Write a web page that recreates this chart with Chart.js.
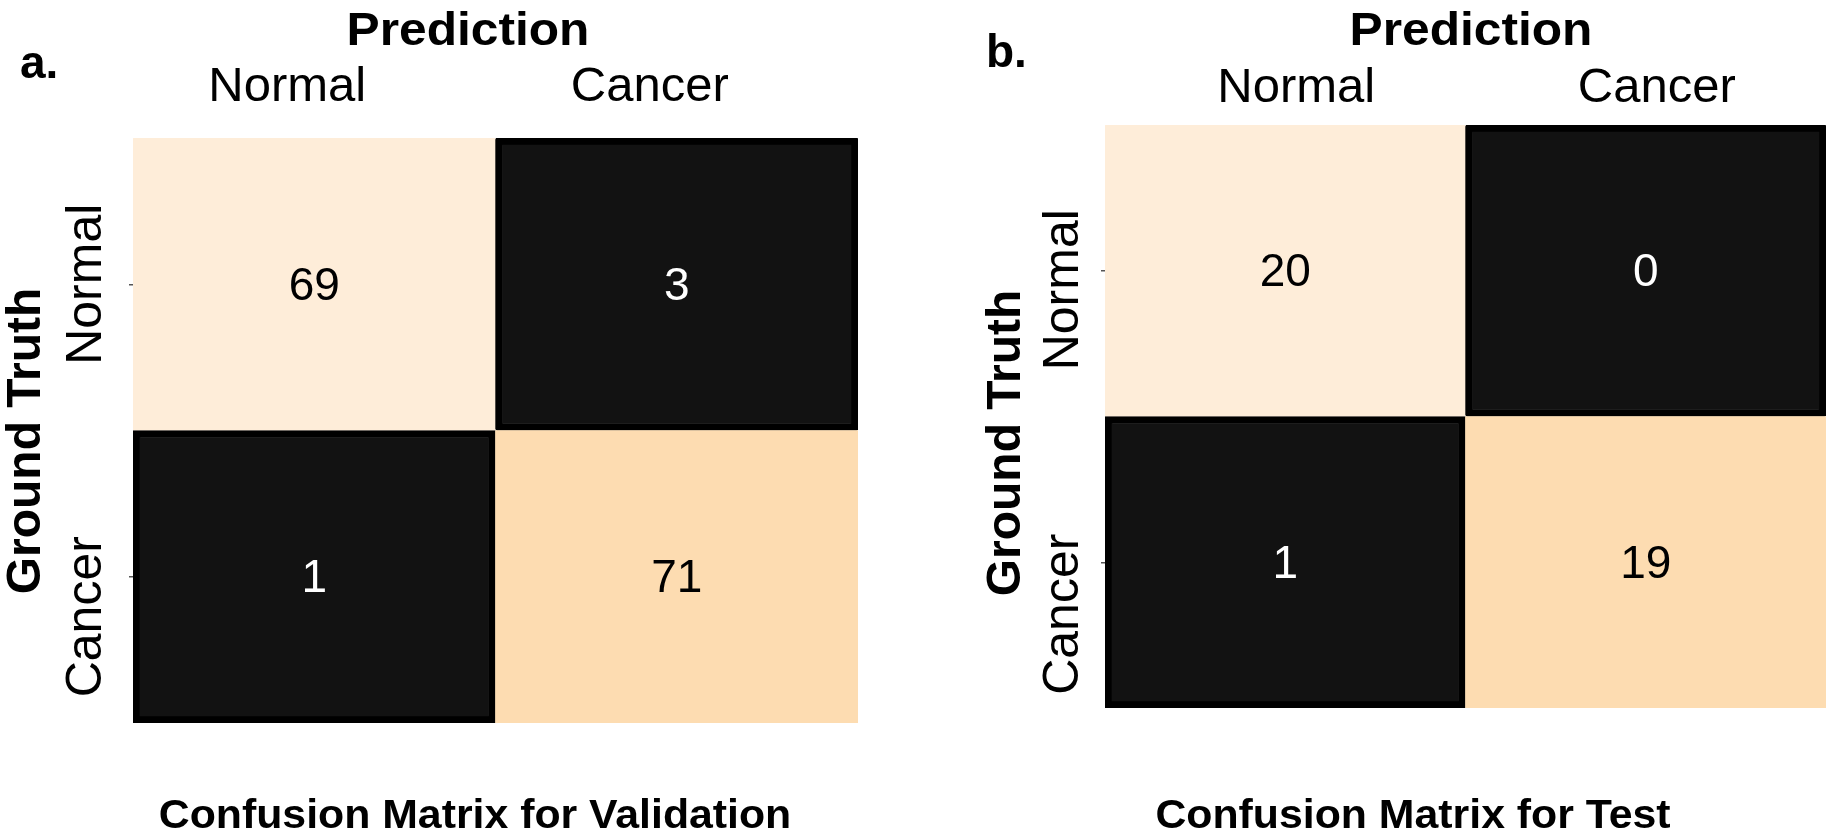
<!DOCTYPE html>
<html>
<head>
<meta charset="utf-8">
<script src="https://cdn.jsdelivr.net/npm/chart.js@4.4.1/dist/chart.umd.min.js"></script>
<style>
  html, body { margin: 0; padding: 0; background: #ffffff; overflow: hidden; width: 1834px; height: 839px; }
  canvas { position: absolute; top: 0; }
  #chartA { left: 0; }
  #chartB { left: 917px; }
</style>
</head>
<body>
<canvas id="chartA" width="917" height="839" style="width:917px;height:839px"></canvas>
<canvas id="chartB" width="917" height="839" style="width:917px;height:839px"></canvas>
<script>
// ---------- data ----------
const predLabels = ['Normal', 'Cancer'];      // columns (Prediction)
const truthLabels = ['Normal', 'Cancer'];     // rows (Ground Truth), top to bottom
const validationCounts = [[69, 3], [1, 71]];
const testCounts = [[20, 0], [1, 19]];
const xTitleText = 'Prediction';
const yTitleText = 'Ground Truth';
const captionA = 'Confusion Matrix for Validation';
const captionB = 'Confusion Matrix for Test';
const letterA = 'a.';
const letterB = 'b.';

// ---------- style ----------
const FONT = "'Liberation Sans', Arial, Helvetica, sans-serif";
const cellColors = [['#FEEDD9', '#121212'], ['#121212', '#FDDCB1']];
const textColors = [['#000000', '#ffffff'], ['#ffffff', '#000000']];
const darkCells = [[false, true], [true, false]];

const cellText = {
  id: 'cellText',
  afterDatasetsDraw(chart) {
    const ctx = chart.ctx;
    chart.data.datasets.forEach((ds, di) => {
      const meta = chart.getDatasetMeta(di);
      meta.data.forEach((el, i) => {
        const p = el.getProps(['x', 'y', 'base'], true);
        ctx.save();
        ctx.font = '46px ' + FONT;
        ctx.fillStyle = textColors[ds.row][i];
        ctx.textAlign = 'center';
        ctx.textBaseline = 'middle';
        ctx.fillText(String(ds.counts[i]), p.x, (p.y + p.base) / 2 + 3);
        ctx.restore();
      });
    });
  }
};

function drawText(ctx, t) {
  ctx.save();
  ctx.translate(t.x, t.y);
  if (t.rot) ctx.rotate(t.rot);
  if (t.sx) ctx.scale(t.sx, 1);
  ctx.font = t.font;
  ctx.fillStyle = '#000000';
  ctx.textAlign = t.align || 'center';
  ctx.textBaseline = t.baseline || 'alphabetic';
  ctx.fillText(t.text, 0, 0);
  ctx.restore();
}

function panelText(geo) {
  return {
    id: 'panelText',
    afterDraw(chart) {
      const ctx = chart.ctx;
      const ys = chart.scales.y;
      // row labels (Ground Truth categories), positioned from the y scale
      truthLabels.forEach((lab, r) => {
        const py = ys.getPixelForValue(truthLabels.length - r - 0.5) + geo.rowShift[r];
        drawText(ctx, { text: lab, x: geo.rowX, y: py, rot: -Math.PI / 2, font: '50px ' + FONT, align: 'center', baseline: 'middle' });
      });
      drawText(ctx, { text: yTitleText, x: geo.yTitleX, y: geo.yTitleY, rot: -Math.PI / 2, font: 'bold 48px ' + FONT, align: 'center', baseline: 'middle' });
      drawText(ctx, { text: xTitleText, x: geo.xTitleX, y: 45, sx: 1.08, font: 'bold 46px ' + FONT, align: 'center' });
      drawText(ctx, { text: geo.caption, x: geo.captionX, y: 828, sx: 1.07, font: 'bold 40px ' + FONT, align: 'center' });
      drawText(ctx, { text: geo.letter, x: geo.letterX, y: geo.letterY, font: 'bold 46px ' + FONT, align: 'left' });
    }
  };
}

function makeChart(canvasId, counts, geo) {
  const datasets = [];
  for (let r = truthLabels.length - 1; r >= 0; r--) {
    datasets.push({
      label: truthLabels[r],
      row: r,
      counts: counts[r],
      data: predLabels.map(() => 1),
      backgroundColor: c => cellColors[r][c.dataIndex],
      borderColor: '#000000',
      borderWidth: c => (darkCells[r][c.dataIndex] ? 7 : 0),
      borderSkipped: false,
      borderRadius: 2,
      barPercentage: 1,
      categoryPercentage: 1
    });
  }
  return new Chart(document.getElementById(canvasId), {
    type: 'bar',
    data: { labels: predLabels, datasets },
    options: {
      responsive: false,
      animation: false,
      devicePixelRatio: 1,
      events: [],
      layout: { padding: geo.padding },
      plugins: { legend: { display: false }, tooltip: { enabled: false }, title: { display: false } },
      scales: {
        x: {
          type: 'category',
          position: 'top',
          stacked: true,
          grid: { display: false, drawTicks: false },
          border: { display: false },
          ticks: {
            color: '#000000',
            font: { family: FONT, size: 49 },
            padding: geo.xTickPad,
            labelOffset: geo.xLabelOffset,
            maxRotation: 0,
            minRotation: 0
          },
          title: { display: false },
          afterFit: s => { s.height = geo.xHeight; }
        },
        y: {
          type: 'linear',
          stacked: true,
          min: 0,
          max: 2,
          grid: { display: true, drawOnChartArea: false, drawTicks: true, tickLength: 4, color: '#555555', lineWidth: 1.5 },
          border: { display: false },
          afterBuildTicks: s => {
            s.ticks = truthLabels.map((_, r) => ({ value: truthLabels.length - r - 0.5 }));
          },
          ticks: { display: false },
          title: { display: false },
          afterFit: s => { s.width = geo.yWidth; }
        }
      }
    },
    plugins: [cellText, panelText(geo)]
  });
}

makeChart('chartA', validationCounts, {
  padding: { left: 0, right: 59, top: 0, bottom: 116 },
  xHeight: 138, yWidth: 133,
  xTickPad: 21, xLabelOffset: -27,
  rowX: 87, rowShift: [0, 40],
  yTitleX: 27, yTitleY: 441,
  xTitleX: 468,
  caption: captionA, captionX: 475,
  letter: letterA, letterX: 20, letterY: 78
});

makeChart('chartB', testCounts, {
  padding: { left: 0, right: 8, top: 0, bottom: 131 },
  xHeight: 125, yWidth: 188,
  xTickPad: 7, xLabelOffset: 11,
  rowX: 147, rowShift: [19, 52],
  yTitleX: 90, yTitleY: 443,
  xTitleX: 554,
  caption: captionB, captionX: 496,
  letter: letterB, letterX: 69, letterY: 67
});
</script>
</body>
</html>
